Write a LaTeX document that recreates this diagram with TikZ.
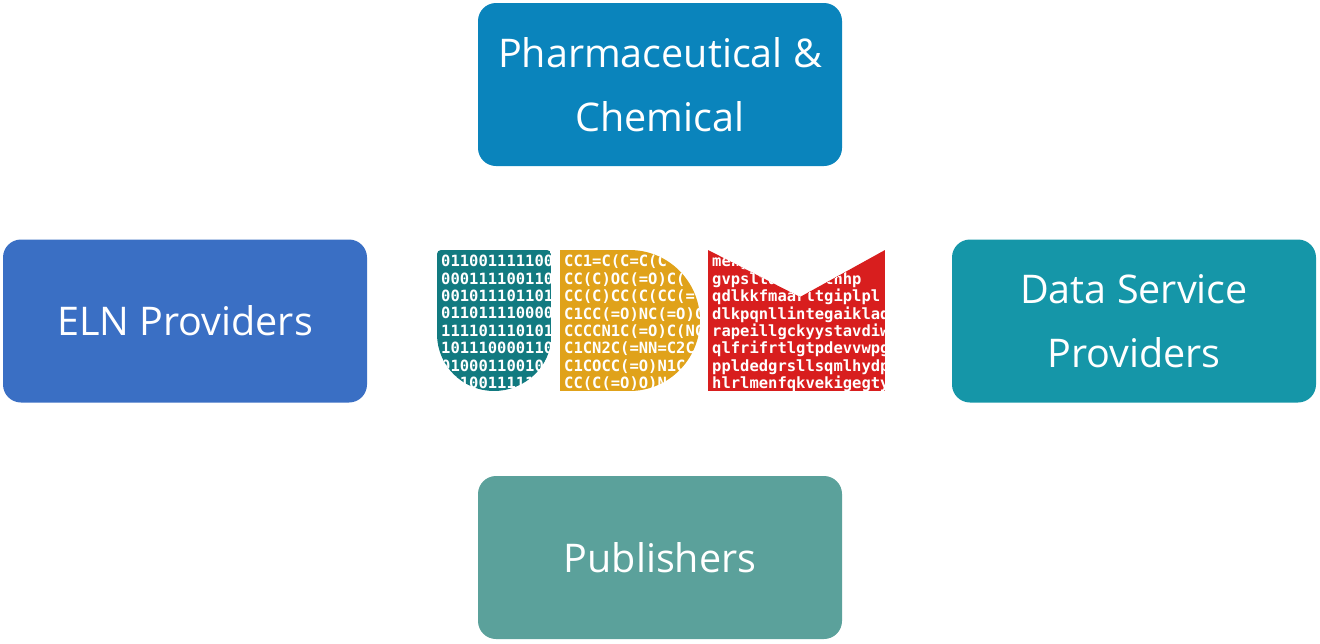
\documentclass[tikz,border=0pt]{standalone}
\usepackage{fontspec}
\setmainfont{Open Sans}
\newfontfamily\codefont{DejaVu Sans Mono}
\definecolor{ctop}{HTML}{0A84BC}
\definecolor{cleft}{HTML}{3A6FC4}
\definecolor{cright}{HTML}{1596A8}
\definecolor{cbot}{HTML}{5BA19B}
\definecolor{lu}{HTML}{127A80}
\definecolor{ld}{HTML}{E0A21A}
\definecolor{lm}{HTML}{D81E1E}
\tikzset{box/.style={rounded corners=18pt,text=white,align=center,font=\fontsize{39.5}{64}\selectfont,minimum width=364pt,minimum height=163pt,inner sep=0pt},
codetxt/.style={text=white,font=\codefont\bfseries\fontsize{15.5}{17.4}\selectfont,align=left,anchor=north west,inner sep=0pt}}
\begin{document}
\begin{tikzpicture}[x=1pt,y=-1pt]
\useasboundingbox (0,0) rectangle (1320,643);
\node[box,fill=ctop] (pc) at (660,84.5) {Pharmaceutical \&\\Chemical};
\node[box,fill=cleft] (eln) at (185,321) {ELN Providers};
\node[box,fill=cright] (dsp) at (1134,321) {Data Service\\Providers};
\node[box,fill=cbot] (pub) at (660,557.5) {Publishers};
% U
\begin{scope}
\path[clip,rounded corners=4pt] (437,334) -- (437,250) -- (551,250) -- (551,334) [sharp corners] arc[start angle=0,end angle=180,radius=57] -- cycle;
\fill[lu] (437,250) rectangle (551,391);
\node[codetxt] (ut) at (441,255) {011001111100\\000111100110\\001011101101\\011011110000\\111101110101\\101110000110\\010001100101\\011001111100};
\end{scope}
% D
\begin{scope}
\path[clip] (560,250) -- (629.5,250) arc[start angle=-90,end angle=90,radius=70.5] -- (560,391) -- cycle;
\fill[ld] (560,250) rectangle (700,391);
\node[codetxt] (dt) at (564,255) {CC1=C(C=C(C\\CC(C)OC(=O)C(\\CC(C)CC(C(CC(=\\C1CC(=O)NC(=O)C\\CCCCN1C(=O)C(NC\\C1CN2C(=NN=C2C\\C1COCC(=O)N1C\\CC(C(=O)O)N};
\end{scope}
% M
\begin{scope}
\path[clip] (708,250) -- (800,297) -- (885,250) -- (885,391) -- (708,391) -- cycle;
\fill[lm] (708,250) rectangle (885,391);
\node[codetxt] (mt) at (712,255) {mehgvkaxbcrtwvy\\gvpsltdqdyrelnhp\\qdlkkfmaarltgiplpl\\dlkpqnllintegaiklad\\rapeillgckyystavdiw\\qlfrifrtlgtpdevvwpg\\ppldedgrsllsqmlhydp\\hlrlmenfqkvekigegty};
\end{scope}
\end{tikzpicture}
\end{document}
